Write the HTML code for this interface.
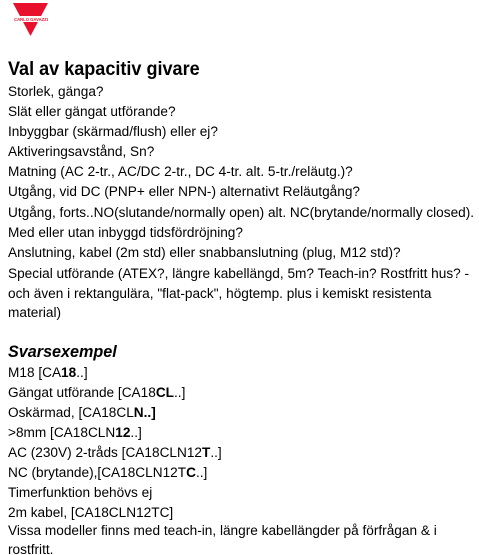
<!DOCTYPE html>
<html><head><meta charset="utf-8"><style>
html,body{margin:0;padding:0;background:#fff;width:479px;height:555px;overflow:hidden;position:relative;font-family:"Liberation Sans",sans-serif;color:#000}
.l{position:absolute;left:8px;white-space:nowrap;font-size:13.5px;line-height:16px;transform:scaleX(1.01);transform-origin:0 0}
.t{position:absolute;left:8px;font-weight:bold;font-size:19px;white-space:nowrap;transform:scaleX(0.95);transform-origin:0 0}
.s{position:absolute;left:8px;font-weight:bold;font-style:italic;font-size:16.5px;white-space:nowrap;transform:scaleX(0.98);transform-origin:0 0}
</style></head><body>
<svg style="position:absolute;left:13px;top:3px" width="36" height="34" viewBox="0 0 36 34">
<polygon points="0,0 35,0 17.5,33" fill="#e8112d"/>
<rect x="0" y="13" width="36" height="6" fill="#fff"/>
<text x="18" y="18" font-size="4.2" font-weight="bold" text-anchor="middle" font-family="Liberation Sans" fill="#e8112d">CARLO GAVAZZI</text>
</svg>
<div class="t" style="top:59px">Val av kapacitiv givare</div>
<div class="l" style="top:84px">Storlek, gänga?</div>
<div class="l" style="top:104px">Slät eller gängat utförande?</div>
<div class="l" style="top:124px">Inbyggbar (skärmad/flush) eller ej?</div>
<div class="l" style="top:144px">Aktiveringsavstånd, Sn?</div>
<div class="l" style="top:164px">Matning (AC 2-tr., AC/DC 2-tr., DC 4-tr. alt. 5-tr./reläutg.)?</div>
<div class="l" style="top:184px">Utgång, vid DC (PNP+ eller NPN-) alternativt Reläutgång?</div>
<div class="l" style="top:205px">Utgång, forts..NO(slutande/normally open) alt. NC(brytande/normally closed).</div>
<div class="l" style="top:225px">Med eller utan inbyggd tidsfördröjning?</div>
<div class="l" style="top:245px">Anslutning, kabel (2m std) eller snabbanslutning (plug, M12 std)?</div>
<div class="l" style="top:266px">Special utförande (ATEX?, längre kabellängd, 5m? Teach-in? Rostfritt hus? -</div>
<div class="l" style="top:286px">och även i rektangulära, "flat-pack", högtemp. plus i kemiskt resistenta</div>
<div class="l" style="top:305px">material)</div>
<div class="s" style="top:343px">Svarsexempel</div>
<div class="l" style="top:365px">M18 [CA<b>18</b>..]</div>
<div class="l" style="top:385px">Gängat utförande [CA18<b>CL</b>..]</div>
<div class="l" style="top:405px">Oskärmad, [CA18CL<b>N..]</b></div>
<div class="l" style="top:425px">&gt;8mm [CA18CLN<b>12</b>..]</div>
<div class="l" style="top:445px">AC (230V) 2-tråds [CA18CLN12<b>T</b>..]</div>
<div class="l" style="top:465px">NC (brytande),[CA18CLN12T<b>C</b>..]</div>
<div class="l" style="top:485px">Timerfunktion behövs ej</div>
<div class="l" style="top:505px">2m kabel, [CA18CLN12TC]</div>
<div class="l" style="top:523px">Vissa modeller finns med teach-in, längre kabellängder på förfrågan &amp; i</div>
<div class="l" style="top:542px">rostfritt.</div>
</body></html>
